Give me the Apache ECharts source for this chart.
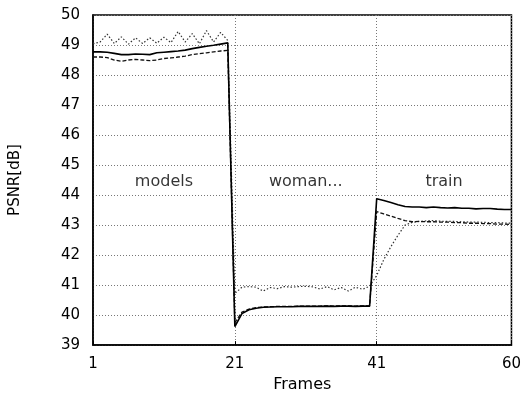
<!DOCTYPE html>
<html>
<head>
<meta charset="utf-8">
<script src="https://cdn.jsdelivr.net/npm/echarts@6/dist/echarts.min.js"></script>
<style>html,body{margin:0;padding:0;background:#fff;}#c{width:524px;height:398px;}</style>
</head>
<body>
<div id="c"></div>
<script>
// Frames 1..60
var frames = [];
for (var i = 1; i <= 60; i++) frames.push(i);

var solid = [
  48.77, 48.77, 48.76, 48.72, 48.68, 48.68, 48.70, 48.69, 48.68, 48.74,
  48.76, 48.78, 48.80, 48.83, 48.88, 48.92, 48.96, 48.99, 49.03, 49.07,
  39.62, 40.05, 40.18, 40.23, 40.26, 40.27, 40.28, 40.28, 40.28, 40.29,
  40.29, 40.29, 40.29, 40.30, 40.29, 40.30, 40.30, 40.29, 40.30, 40.30,
  43.88, 43.82, 43.75, 43.68, 43.62, 43.60, 43.60, 43.58, 43.60, 43.58,
  43.57, 43.58, 43.56, 43.56, 43.54, 43.55, 43.55, 43.53, 43.52, 43.52
];
var dashed = [
  48.60, 48.60, 48.58, 48.50, 48.46, 48.50, 48.52, 48.50, 48.48, 48.50,
  48.55, 48.57, 48.60, 48.63, 48.68, 48.71, 48.74, 48.77, 48.80, 48.82,
  39.75, 40.10, 40.20, 40.25, 40.27, 40.28, 40.29, 40.29, 40.29, 40.30,
  40.30, 40.30, 40.30, 40.31, 40.30, 40.31, 40.31, 40.30, 40.31, 40.31,
  43.45, 43.37, 43.30, 43.22, 43.15, 43.11, 43.12, 43.11, 43.11, 43.10,
  43.10, 43.08, 43.08, 43.06, 43.06, 43.05, 43.05, 43.03, 43.03, 43.02
];
var dotted = [
  49.04, 49.10, 49.36, 49.05, 49.27, 49.03, 49.24, 49.05, 49.24, 49.06,
  49.26, 49.08, 49.45, 49.10, 49.38, 49.04, 49.48, 49.10, 49.42, 49.15,
  40.72, 40.93, 40.95, 40.93, 40.80, 40.92, 40.88, 40.95, 40.93, 40.95,
  40.96, 40.94, 40.87, 40.95, 40.84, 40.92, 40.80, 40.93, 40.86, 40.96,
  41.32, 41.85, 42.28, 42.66, 43.00, 43.09, 43.12, 43.14, 43.15, 43.13,
  43.12, 43.12, 43.11, 43.10, 43.10, 43.09, 43.08, 43.08, 43.07, 43.06
];
var xTickLabels = [1, 21, 41, 60];
var segmentNames = ['models', 'woman...', 'train'];
var segmentCenters = [11, 31, 50.5];
var segmentLabelLevel = 44.45;

function pairs(arr) { return frames.map(function (f, i) { return [f, arr[i]]; }); }

var FONT = 'DejaVu Sans';
var chart = echarts.init(document.getElementById('c'), null, {renderer: 'canvas'});
chart.setOption({
  animation: false,
  backgroundColor: '#fff',
  grid: {left: 84, right: 11, top: 15, bottom: 49, show: true, borderColor: '#000', borderWidth: 1.5, backgroundColor: 'transparent'},
  xAxis: {
    type: 'value', min: 1, max: 60, interval: 20,
    name: 'Frames', nameLocation: 'middle', nameGap: 30,
    nameTextStyle: {fontFamily: FONT, fontSize: 16, color: '#000'},
    axisLine: {show: true, lineStyle: {color: '#000', width: 1.5}},
    axisTick: {show: true, inside: true, length: 4, lineStyle: {color: '#000'}},
    axisLabel: {fontFamily: FONT, fontSize: 15, color: '#000', margin: 12, customValues: xTickLabels, showMaxLabel: true, showMinLabel: true},
    splitLine: {show: true, lineStyle: {color: '#777', type: [1, 2], width: 1}}
  },
  yAxis: {
    type: 'value', min: 39, max: 50, interval: 1,
    name: 'PSNR[dB]', nameLocation: 'middle', nameGap: 52,
    nameTextStyle: {fontFamily: FONT, fontSize: 15, color: '#000', padding: [0, 0, 18, 0]},
    axisLine: {show: true, lineStyle: {color: '#000', width: 1.5}},
    axisTick: {show: false},
    axisLabel: {fontFamily: FONT, fontSize: 15, color: '#000', margin: 13},
    splitLine: {show: true, lineStyle: {color: '#777', type: [1, 2], width: 1}}
  },
  series: [
    {type: 'line', data: pairs(dotted), symbol: 'none', z: 3,
     lineStyle: {color: '#333', width: 1.2, type: [1.5, 2]}},
    {type: 'line', data: pairs(dashed), symbol: 'none', z: 4,
     lineStyle: {color: '#111', width: 1.3, type: [4, 2]}},
    {type: 'line', data: pairs(solid), symbol: 'none', z: 5,
     lineStyle: {color: '#000', width: 1.6}},
    {type: 'scatter', symbolSize: 0, silent: true, z: 6,
     data: segmentNames.map(function (n, i) { return {name: n, value: [segmentCenters[i], segmentLabelLevel]}; }),
     label: {show: true, position: 'inside', formatter: '{b}', fontFamily: FONT, fontSize: 16, color: '#000'}}
  ]
});
</script>
</body>
</html>
